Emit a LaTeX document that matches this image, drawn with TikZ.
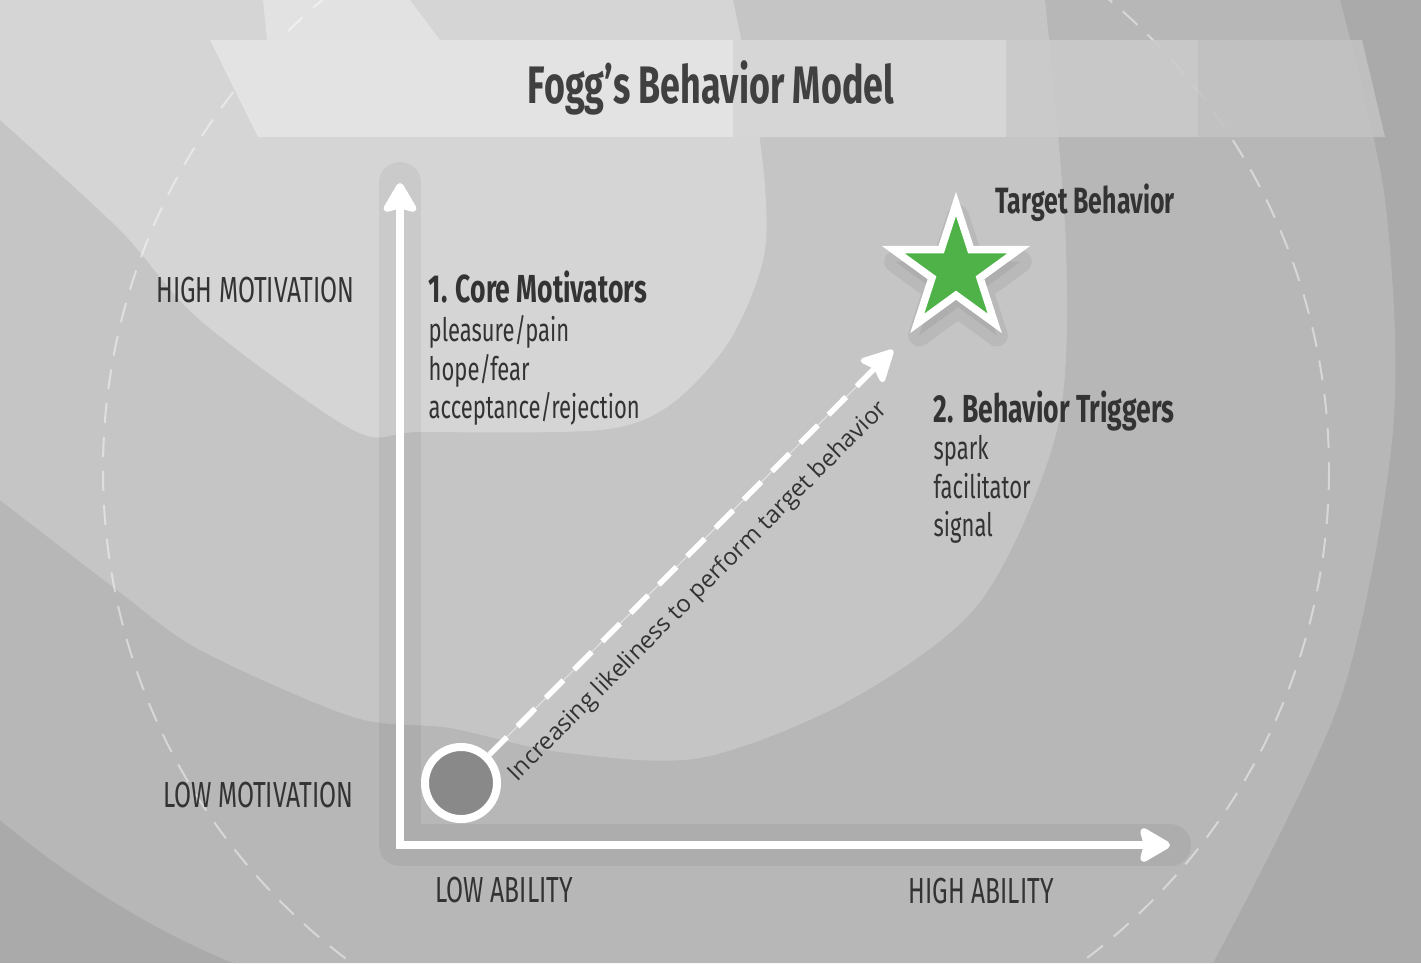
\documentclass[tikz,border=0pt]{standalone}
\usepackage{fontspec}
\setmainfont{Fira Sans}
\newfontfamily\narrowfont{Fira Sans}[FakeStretch=0.68]
\newfontfamily\diagfont{Open Sans}
\usetikzlibrary{
    arrows.meta,
    positioning,
    shapes.geometric
}
\definecolor{bgdark}{HTML}{AAAAAA}
\definecolor{bgmid}{HTML}{B7B7B7}
\definecolor{bglight}{HTML}{C5C5C5}
\definecolor{bgpale}{HTML}{D5D5D5}
\definecolor{bgwhite}{HTML}{E2E2E2}
\definecolor{bandfront}{HTML}{E3E3E3}
\definecolor{bandmid}{HTML}{D6D6D6}
\definecolor{bandback}{HTML}{CBCBCB}
\definecolor{bandend}{HTML}{C3C3C3}
\definecolor{inkgray}{HTML}{333333}
\definecolor{titlegray}{HTML}{404040}
\definecolor{dotgray}{HTML}{898989}
\definecolor{stargreen}{HTML}{4FB248}
\tikzset{
    guide ring/.style={
        draw=white, opacity=0.45, line width=0.02cm,
        dash pattern=on 0.2cm off 0.14cm
    },
    axis shade/.style={
        draw=black, opacity=0.05, line width=0.42cm,
        line cap=round, line join=round
    },
    axis line/.style={
        draw=white, line width=0.085cm, line join=miter,
        {Stealth[length=0.34cm, width=0.39cm, inset=0.05cm, round]}-{Stealth[length=0.35cm, width=0.40cm, inset=0.05cm, round]}
    },
    likely/.style={
        draw=white, line width=0.055cm,
        dash pattern=on 0.25cm off 0.15cm,
        -{Stealth[length=0.36cm, width=0.37cm, inset=0.06cm, round]}
    },
    likely thread/.style={
        draw=white, opacity=0.5, line width=0.01cm
    },
    startdot/.style={
        circle, fill=dotgray, draw=white, line width=0.08cm,
        minimum size=0.72cm, inner sep=0pt
    },
    goalstar/.style={
        star, star points=5, star point ratio=2.618,
        minimum size=1.32cm, inner sep=0pt,
        fill=stargreen, draw=white, line width=0.074cm
    },
    goalshade/.style={
        star, star points=5, star point ratio=2.618,
        minimum size=1.32cm, inner sep=0pt,
        fill=black, draw=black, line width=0.22cm, line join=round,
        opacity=0.06
    },
    titletext/.style={
        font=\narrowfont\bfseries\fontsize{15}{17}\selectfont,
        text=titlegray, inner sep=0pt
    },
    capslabel/.style={
        font=\narrowfont\fontsize{10.3}{12}\selectfont,
        text=inkgray, inner sep=0pt
    },
    heading/.style={
        font=\narrowfont\bfseries\fontsize{11.1}{13}\selectfont,
        text=inkgray, inner sep=0pt
    },
    targettext/.style={
        font=\narrowfont\bfseries\fontsize{10.4}{12}\selectfont,
        text=inkgray, inner sep=0pt
    },
    item/.style={
        font=\narrowfont\fontsize{9.2}{11}\selectfont,
        text=inkgray, inner sep=0pt
    },
    diaglabel/.style={
        font=\diagfont\fontsize{6.8}{8}\selectfont,
        text=inkgray, inner sep=0pt
    },
}

\begin{document}
\begin{tikzpicture}[x=0.01cm, y=-0.01cm]
    \useasboundingbox (0,0) rectangle (1421,963);

    % Background swirl
    \fill[bgdark] (0,0) rectangle (1421,963);
    \fill[bgmid] (0,0) -- plot[smooth] coordinates {(1340,0) (1385,200) (1393,430) (1340,700) (1213,963)}
        -- (233,963) .. controls (140,925) and (60,870) .. (0,820) -- cycle;
    \fill[bglight] (0,0) -- plot[smooth] coordinates {(1045,0) (1066,246) (1057,430) (980,602) (850,700)
        (700,758) (560,752) (450,728) (353,717) (200,650) (117,590) (0,500)} -- cycle;
    \fill[bgpale] (0,0) -- plot[smooth] coordinates {(733,0) (760,140) (765,250) (730,340) (670,405)
        (600,430) (420,432) (353,430) (200,320) (120,230) (0,120)} -- cycle;
    \fill[bgwhite] (263,0) -- (410,0) -- (440,40) -- (267,40) -- cycle;
    \draw[guide ring] (716,470) circle (613);

    % Title band
    \fill[bandfront] (210,40) -- (733,40) -- (733,137) -- (258,137) -- cycle;
    \fill[bandmid] (733,40) rectangle (1006,137);
    \fill[bandback, opacity=0.85] (1006,40) rectangle (1198,137);
    \fill[bandend, opacity=0.85] (1198,40) -- (1362,40) -- (1385,137) -- (1198,137) -- cycle;
    \node[titletext, anchor=base] (title) at (711,103) {Fogg’s Behavior Model};

    % Axes
    \coordinate (top) at (400,183);
    \coordinate (origin) at (400,845);
    \coordinate (right) at (1170,845);
    \draw[axis shade] (top) -- (origin) -- (right);
    \draw[axis line] (top) -- (origin) -- (right);

    \node[capslabel, anchor=base east] (highmot) at (355,302) {HIGH MOTIVATION};
    \node[capslabel, anchor=base east] (lowmot) at (354,807) {LOW MOTIVATION};
    \node[capslabel, anchor=base west] (lowabl) at (435,902) {LOW ABILITY};
    \node[capslabel, anchor=base west] (highabl) at (908,903) {HIGH ABILITY};

    % Target and path towards it
    \node[goalshade] (goalshadow) at (958,282) {};
    \node[goalstar] (goal) at (956,270) {};
    \node[targettext, anchor=base west] (target) at (995,213) {Target Behavior};

    \node[startdot] (start) at (461,783) {};
    \coordinate (tip) at (893,350);
    \draw[likely thread] (start) -- (tip);
    \draw[likely] (start) -- node[pos=0.46, sloped, below=0.18cm, diaglabel] (trend)
        {Increasing likeliness to perform target behavior} (tip);

    % Motivators and triggers
    \node[heading, anchor=base west] (core) at (428,302) {1. Core Motivators};
    \foreach \entry [count=\i] in {pleasure/pain, hope/fear, acceptance/rejection}
        \node[item, anchor=base west] (core-\i) at (428,303+38.5*\i) {\entry};

    \node[heading, anchor=base west] (trig) at (933,422) {2. Behavior Triggers};
    \foreach \entry [count=\i] in {spark, facilitator, signal}
        \node[item, anchor=base west] (trig-\i) at (933,421+38.5*\i) {\entry};
\end{tikzpicture}
\end{document}
